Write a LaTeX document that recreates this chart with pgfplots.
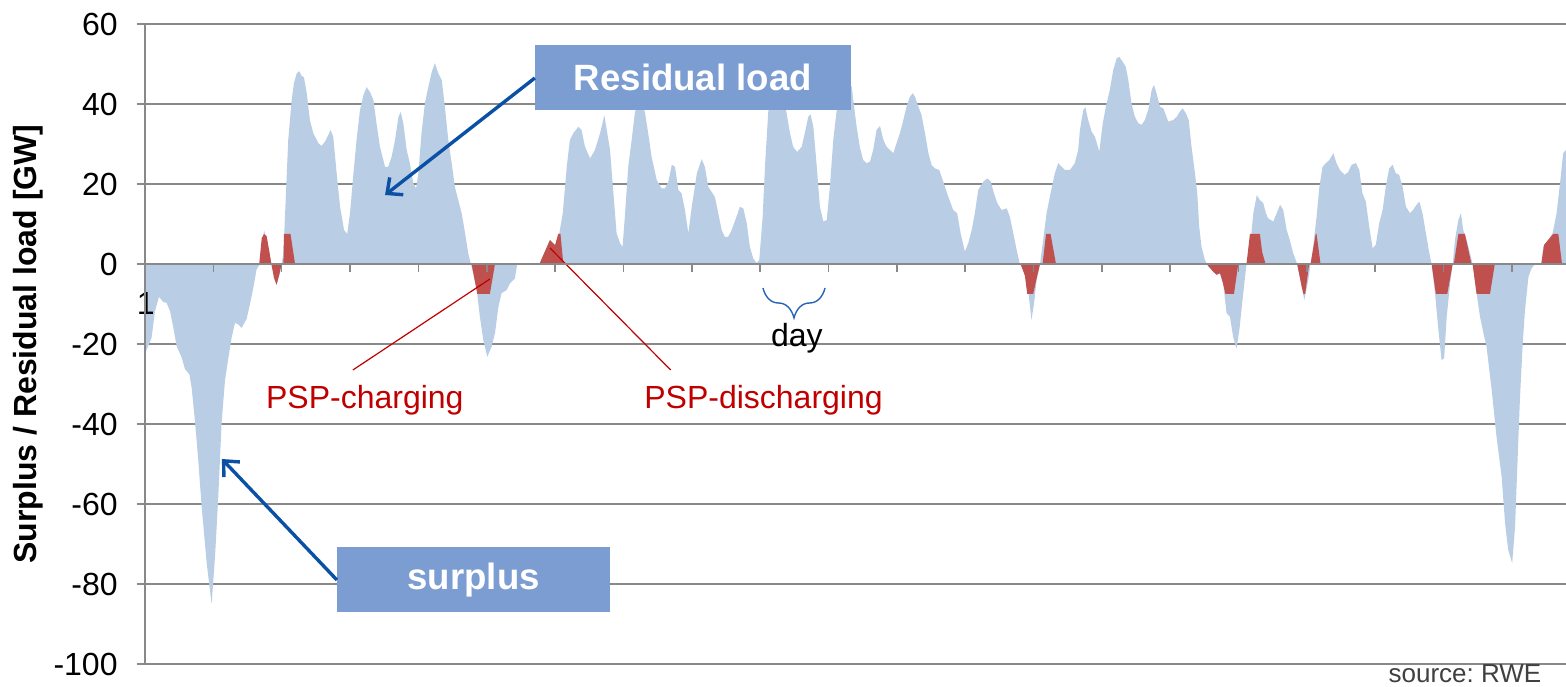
\documentclass[border=0pt]{standalone}
\usepackage{fontspec}
\setmainfont{Liberation Sans}
\usepackage{pgfplots}
\pgfplotsset{compat=1.18}
\usetikzlibrary{arrows.meta,decorations.pathreplacing}
\definecolor{areablue}{RGB}{185,205,229}
\definecolor{pspred}{RGB}{192,80,77}
\definecolor{boxblue}{RGB}{124,157,210}
\definecolor{arrowblue}{RGB}{10,80,165}
\definecolor{annred}{RGB}{192,0,0}
\definecolor{gridgray}{RGB}{137,137,137}
\definecolor{bracblue}{RGB}{40,100,185}
\definecolor{srcgray}{RGB}{64,64,64}
\pgfplotsset{
  layers/mylayers/.define layer set={
    axis background,axis grid,pre main,main,axis ticks,axis lines,axis tick labels,axis descriptions,axis foreground
  }{/pgfplots/layers/standard},
}
\frenchspacing
\begin{document}
\begin{tikzpicture}
\begin{axis}[
  set layers=mylayers,
  scale only axis, width=710.5pt, height=320pt,
  xmin=0, xmax=499, ymin=-100, ymax=60,
  axis x line=middle, axis y line=left,
  hide obscured x ticks=false, hide obscured y ticks=false,
  axis line style={-, draw=gridgray, line width=0.8pt},
  every inner x axis line/.append style={-},
  every outer y axis line/.append style={-},
  every outer x axis line/.append style={-},
  xtick={24,48,...,480}, xticklabels={},
  xtick align=outside,
  ytick={-100,-80,...,60}, yticklabels={-100,-80,-60,-40,-20,0,20,40,60},
  ytick align=outside,
  major tick length=4pt,
  tick style={draw=gridgray, line width=0.8pt},
  ymajorgrids, grid style={draw=gridgray, line width=0.8pt},
  yticklabel style={font=\fontsize{16}{19}\selectfont, anchor=east, inner sep=0pt, xshift=-9.5pt},
  clip=false,
]
\addplot[draw=none, fill=areablue] coordinates {
(0,-22.4)(2.3,-18.5)(3.5,-11.8)(4.9,-8.2)(6.4,-9.5)(7.6,-9.7)(8.8,-11.8)(9.9,-15.7)(11.1,-20.5)(12.9,-23.4)(14.0,-26.2)(15.6,-27.6)(16.4,-31)(17.6,-39.7)(18.7,-49)(19.9,-60.7)(21.7,-75)(23.4,-85)(24.6,-73)(25.7,-58.7)(26.9,-39.7)(28.1,-29)(29.3,-23.4)(30.4,-18.5)(31.6,-14.7)(32.8,-15.1)(33.9,-16)(35.7,-13.7)(36.9,-9.9)(38.0,-6.1)(39.2,-1.3)(40.4,0)(41.8,8.5)(43.3,4.3)(44.5,-0.7)(46.2,-5.2)(47.4,-2.3)(48.6,2.7)(49.4,16)(50.3,31)(51.5,41)(52.3,45.2)(53.3,47.7)(54.2,48.2)(55.0,47)(55.8,46.7)(56.8,42.7)(57.9,36)(59.1,32.7)(60.9,30.2)(62.0,29.5)(63.2,30.6)(64.4,32.3)(65.2,33.5)(66.1,31.8)(67.3,22.7)(68.5,14.3)(69.9,8.5)(71.0,7.5)(72.0,12.7)(73.2,22.7)(74.3,31)(75.5,38.5)(76.7,42.2)(77.8,44.2)(79.0,43)(80.2,41)(81.3,35.2)(82.5,29.3)(84.3,24.3)(85.4,24.3)(86.6,26.8)(87.8,31)(89.0,36.8)(89.8,38)(90.7,35.2)(91.9,28.5)(93.0,25.2)(94.2,20.2)(95.2,18.9)(96.0,22.7)(97.1,32.7)(98.3,40.2)(99.5,44.3)(100.7,48)(101.8,50.2)(103.0,47.7)(104.2,46)(105.3,39.3)(106.5,31)(107.7,25.2)(108.8,19.3)(110.0,16)(111.2,12.7)(112.4,7.7)(113.5,2.7)(114.7,-0.7)(116.5,-6.5)(117.6,-13.2)(118.8,-19)(120.2,-23.2)(121.7,-20.7)(122.9,-17.3)(124.1,-10.7)(125.2,-7.3)(127.0,-6.5)(128.2,-4.8)(129.9,-3.6)(130.7,0)(138.5,0)(142.2,6)(144.0,4.7)(145.5,7.7)(146.7,12.7)(148.1,24.3)(149.2,31)(150.4,32.7)(152.2,34.3)(153.3,33.5)(154.5,29.3)(156.3,26.4)(158.0,28.5)(159.8,32.7)(161.3,37.2)(163.3,28.5)(164.4,18.5)(165.6,7.7)(166.8,5.2)(167.7,4.3)(168.5,11.8)(169.7,24.3)(170.9,31)(172.0,37.7)(173.8,43)(175.6,37.7)(176.7,32.7)(177.9,26.8)(179.7,21)(181.4,18.9)(182.6,18.9)(183.8,20.6)(185.0,24.8)(186.1,24.3)(187.3,18.5)(188.4,17.7)(189.6,13.5)(190.8,7.7)(192.0,14.3)(193.8,22.7)(195.5,26.2)(196.6,24.3)(197.8,19.3)(199.0,18)(200.1,16.8)(201.3,12.7)(202.5,8.5)(203.6,6.8)(204.8,6.8)(206.0,8.5)(207.7,11.8)(208.9,14.3)(210.1,13.9)(211.3,10.2)(212.4,4.3)(213.6,1.4)(214.8,0.2)(215.7,1)(216.9,11.8)(217.7,24.3)(218.9,38.5)(220.6,45)(222.0,46)(223.6,44)(225.3,37.7)(226.5,32.7)(227.6,29.3)(229.0,28)(230.6,29.3)(231.7,32.7)(232.9,36.8)(233.7,37.4)(234.7,34.3)(235.9,24.3)(237.0,14.3)(238.2,10.6)(239.4,11)(240.5,19.3)(241.7,31)(242.9,38.5)(245.3,44)(247.0,45)(248.2,44.3)(248.7,41)(249.9,34.3)(251.0,29.3)(252.2,26)(253.4,25.2)(254.6,25.6)(255.7,28.5)(256.9,33.5)(258.1,34.5)(259.3,31)(260.4,29.3)(261.6,28.5)(262.8,27.7)(263.9,30.2)(265.1,32.7)(266.3,36)(267.4,39.3)(268.6,41.8)(269.6,42.7)(270.4,41.8)(271.6,39.3)(272.7,37.2)(273.9,32.7)(275.1,27.7)(276.2,24.8)(277.4,23.9)(278.9,23.5)(280.3,20.6)(282.1,16.8)(283.8,13.5)(285.2,12.7)(286.4,7.7)(287.9,3.1)(289.1,5.2)(290.3,8.5)(291.4,12.7)(292.6,18.5)(294.4,20.6)(295.8,21.4)(297.0,20.6)(298.1,17.7)(299.3,15.2)(300.8,13.5)(302.6,13.9)(303.7,11.8)(304.9,7.7)(306.1,3.5)(307.2,0)(308.4,-1.5)(309.6,-3.2)(310.5,-9)(311.3,-14)(312.2,-9.8)(313.1,-4)(314.3,0)(315.4,6)(316.6,12.7)(318.0,17.7)(319.5,22.7)(320.7,25.2)(321.9,24.3)(323.0,23.5)(324.8,23.5)(326.5,25.2)(327.7,28.5)(328.3,33.5)(329.5,38.5)(330.2,39.2)(331.2,36)(332.4,33.1)(333.6,31.8)(335.1,28.1)(336.3,35)(337.4,39.3)(338.8,43.5)(340.0,48.5)(341.2,51.4)(342.1,51.8)(343.3,50.6)(344.4,49.3)(345.3,46)(346.4,40.2)(347.6,36.8)(348.8,35.2)(350.0,34.8)(351.1,36)(352.3,38.5)(353.5,43.5)(354.3,44.8)(355.2,42.7)(356.4,39.3)(357.6,38.9)(358.5,37.2)(359.3,35.6)(361.1,36)(362.3,36.8)(363.4,38.1)(364.4,38.9)(365.5,37.7)(366.5,36)(367.5,29.3)(368.7,22.7)(369.5,17.7)(370.2,9.3)(371.0,4.3)(372.2,1)(373.4,-0.7)(375.1,-1.9)(376.3,-2.7)(377.5,-2.3)(378.6,-4.8)(379.8,-12.3)(381.0,-13.2)(382.1,-18.2)(383.3,-21.1)(384.3,-16.5)(385.4,-9)(386.8,0)(388.3,6)(389.2,12.7)(390.4,17.2)(391.5,16)(392.7,15.2)(393.6,12.7)(394.4,11.4)(396.2,10.6)(397.4,12.7)(398.6,14.8)(399.7,13.5)(400.9,8.5)(402.0,6)(403.2,2.7)(404.6,0)(406.2,-5.7)(407.1,-9)(408.5,-4)(409.3,0)(410.2,4.3)(411.4,11.8)(412.4,19.3)(413.5,24.3)(414.7,25.2)(415.9,26)(417.3,27.7)(418.4,25.2)(419.6,23.5)(421.3,22.3)(422.5,23)(423.7,24.8)(425.2,25.2)(426.4,23.5)(427.5,17.7)(428.7,15.6)(429.9,9.3)(431.1,3.9)(432.2,4.8)(433.4,10.2)(434.6,13.5)(435.7,19.3)(436.9,23.9)(438.1,24.8)(439.2,22.7)(440.4,22.3)(441.6,19.3)(442.8,14.3)(444.2,12.7)(445.3,13.5)(446.5,14.8)(447.5,15.6)(448.6,12.7)(449.8,7.7)(451.0,2.7)(451.8,0)(453.0,-7.3)(454.2,-16.5)(455.3,-24)(456.2,-23.6)(457.1,-13.2)(458.3,-4.8)(459.2,0)(460.0,6)(461.2,11)(462.1,12.7)(462.9,8.5)(464.1,6)(465.3,2.7)(466.2,0)(467.6,-7.3)(468.8,-13.2)(470.0,-17.3)(471.1,-20.7)(472.9,-31.5)(474.6,-43.2)(476.4,-53.2)(477.6,-64.8)(478.7,-71.5)(480.1,-74.8)(481.1,-65.7)(481.9,-50.7)(482.8,-34)(483.8,-19.8)(484.6,-11.5)(485.8,-3.2)(486.9,-1.1)(488.1,0)(490.4,0)(491.0,4.3)(492.8,6)(494.3,7.7)(495.7,12.7)(496.9,20.2)(498.0,27.7)(499.0,28.5)
} \closedcycle;
\addplot[draw=none, fill=pspred] coordinates {
(0,0)(40.1,0)(41.0,6.5)(41.8,7.5)(42.7,7)(43.7,3)(44.4,0)(45.3,-3.5)(46.2,-5.2)(47.2,-2.5)(48.0,0)(48.6,0)(48.8,7.5)(51.1,7.5)(52.7,0)
(114.7,0)(116.7,-7.5)(121.1,-7.5)(122.9,0)
(138.5,0)(142.2,6)(144.0,4.7)(145.1,7.5)(145.9,7.5)(146.9,0)
(307.5,0)(309.0,-3)(309.8,-7.5)(311.9,-7.5)(313.3,-3)(314.3,0)(315.2,0)(316.4,7.5)(318.0,7.5)(319.9,0)
(372.8,0)(375.1,-1.9)(376.3,-2.7)(377.5,-2.3)(378.6,-5)(379.4,-7.5)(382.4,-7.5)(383.9,0)
(386.8,0)(388.0,7.5)(391.5,7.5)(392.3,3)(393.5,0)
(404.6,0)(406.2,-5.7)(406.8,-7.5)(407.4,-7.5)(408.8,0)(409.3,0)(411.1,7.5)(411.4,7.5)(412.8,0)
(451.8,0)(453.3,-7.5)(457.3,-7.5)(459.2,0)(459.6,0)(461.2,7.5)(463.5,7.5)(465.8,0)
(466.2,0)(467.6,-7.5)(472.3,-7.5)(474.0,0)
(490.3,0)(491.3,4.8)(493.3,6.5)(494.5,7.5)(496.3,7.5)(497.6,0)(499,0)
} \closedcycle;
% annotation boxes and arrows
\fill[boxblue] (axis cs:136.9,54.75) rectangle (axis cs:247.9,38.5);
\node[text=white, font=\bfseries\fontsize{18.3}{22}\selectfont] at (axis cs:192.4,46.6) {Residual load};
\fill[boxblue] (axis cs:67.4,-70.75) rectangle (axis cs:163.3,-87);
\node[text=white, font=\bfseries\fontsize{18.3}{22}\selectfont] at (axis cs:115.4,-78.9) {surplus};
\draw[arrowblue, line width=1.7pt, -{Straight Barb[length=6pt,width=11pt]}] (axis cs:136.9,46.5) -- (axis cs:84.3,17.25);
\draw[arrowblue, line width=1.7pt, -{Straight Barb[length=6pt,width=11pt]}] (axis cs:67.4,-79) -- (axis cs:27.0,-48.75);
\draw[annred, line width=0.6pt] (axis cs:73.0,-26.5) -- (axis cs:121.1,-3.75);
\node[text=annred, font=\fontsize{16}{19}\selectfont] at (axis cs:77.2,-34) {PSP-charging};
\draw[annred, line width=0.6pt] (axis cs:184.6,-26.5) -- (axis cs:142.2,4);
\node[text=annred, font=\fontsize{16}{19}\selectfont] at (axis cs:217.2,-34) {PSP-discharging};
\draw[bracblue, line width=0.7pt, decorate, decoration={brace, mirror, amplitude=15pt}] (axis cs:217,-6) -- (axis cs:238.8,-6);
\node[font=\fontsize{16}{19}\selectfont] at (axis cs:228.9,-18.5) {day};
\node[text=srcgray, font=\fontsize{13}{16}\selectfont, inner sep=0pt] at (axis cs:463.5,-102.4) {source: RWE};
\node[font=\fontsize{16}{19}\selectfont] at (axis cs:0.3,-9.75) {1};
\node[rotate=90, font=\bfseries\fontsize{16}{19}\selectfont] at ([xshift=-58.5pt]rel axis cs:0,0.5) {Surplus / Residual load [GW]};
\coordinate (bl) at (rel axis cs:0,0);
\coordinate (tr) at (rel axis cs:1,1);
\end{axis}
\pgfresetboundingbox
\useasboundingbox ([xshift=-72.5pt,yshift=-11pt]bl) rectangle ([yshift=12pt]tr);
\end{tikzpicture}
\end{document}
